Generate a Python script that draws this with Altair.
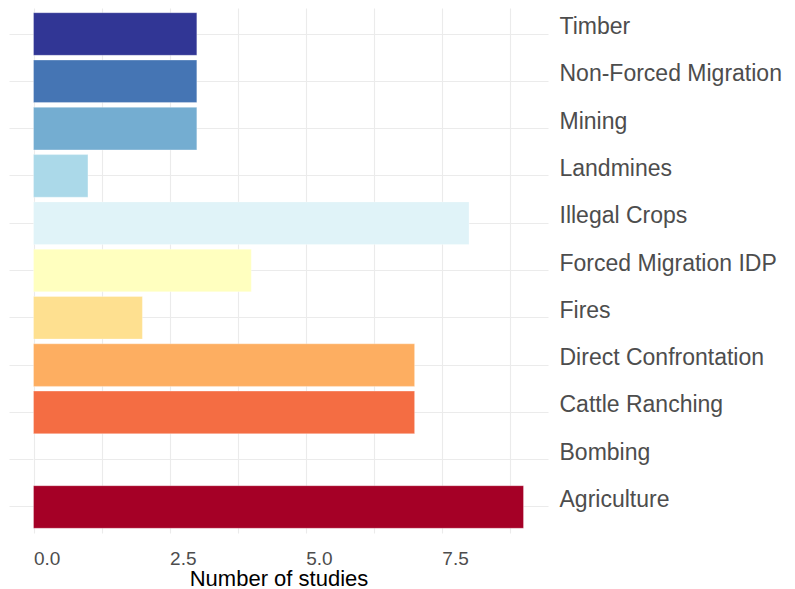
import altair as alt
import pandas as pd

categories = ["Timber", "Non-Forced Migration", "Mining", "Landmines", "Illegal Crops",
              "Forced Migration IDP", "Fires", "Direct Confrontation", "Cattle Ranching",
              "Bombing", "Agriculture"]
studies = [3, 3, 3, 1, 8, 4, 2, 7, 7, 0, 9]
colors = ["#313695", "#4575b4", "#74add1", "#abd9e9", "#e0f3f8",
          "#ffffbf", "#fee090", "#fdae61", "#f46d43", "#d73027", "#a50026"]
x_ticks = [0, 1.25, 2.5, 3.75, 5, 6.25, 7.5, 8.75]

df = pd.DataFrame({"cause": categories, "n": studies})

chart = alt.Chart(df).mark_bar(stroke="white", strokeWidth=0.6, strokeOpacity=0.5).encode(
    x=alt.X("n:Q", title="Number of studies",
            scale=alt.Scale(domain=[-0.45, 9.45], nice=False, zero=False),
            axis=alt.Axis(values=x_ticks,
                          labelExpr="datum.value % 2.5 == 0 ? format(datum.value, '.1f') : ''",
                          labelAlign="left", labelBaseline="alphabetic", labelPadding=31,
                          labelFontSize=19, labelColor="#4d4d4d", labelFont="Liberation Sans",
                          ticks=False, domain=False, grid=True, gridColor="#ebebeb", gridWidth=1.1,
                          titleFontSize=22, titleFont="Liberation Sans", titleColor="#000000",
                          titleFontWeight="normal", titleBaseline="alphabetic", titleY=52,
                          labelOverlap=False)),
    y=alt.Y("cause:N", sort=categories, title=None,
            scale=alt.Scale(paddingInner=0.1, paddingOuter=0.1),
            axis=alt.Axis(orient="right", labelAlign="left", labelBaseline="alphabetic",
                          labelFontSize=23, labelColor="#4d4d4d", labelFont="Liberation Sans",
                          labelPadding=11, ticks=False, domain=False, grid=True,
                          gridColor="#ebebeb", gridWidth=1.1, labelLimit=400)),
    color=alt.Color("cause:N", scale=alt.Scale(domain=categories, range=colors), legend=None),
).properties(
    width=539, height=525,
    autosize=alt.AutoSizeParams(type="none"),
    padding={"left": 1, "top": 0, "right": 239, "bottom": 56},
).configure(background="white").configure_view(stroke=None)

chart.save("out.html", embed_options={"renderer": "svg", "actions": False})
